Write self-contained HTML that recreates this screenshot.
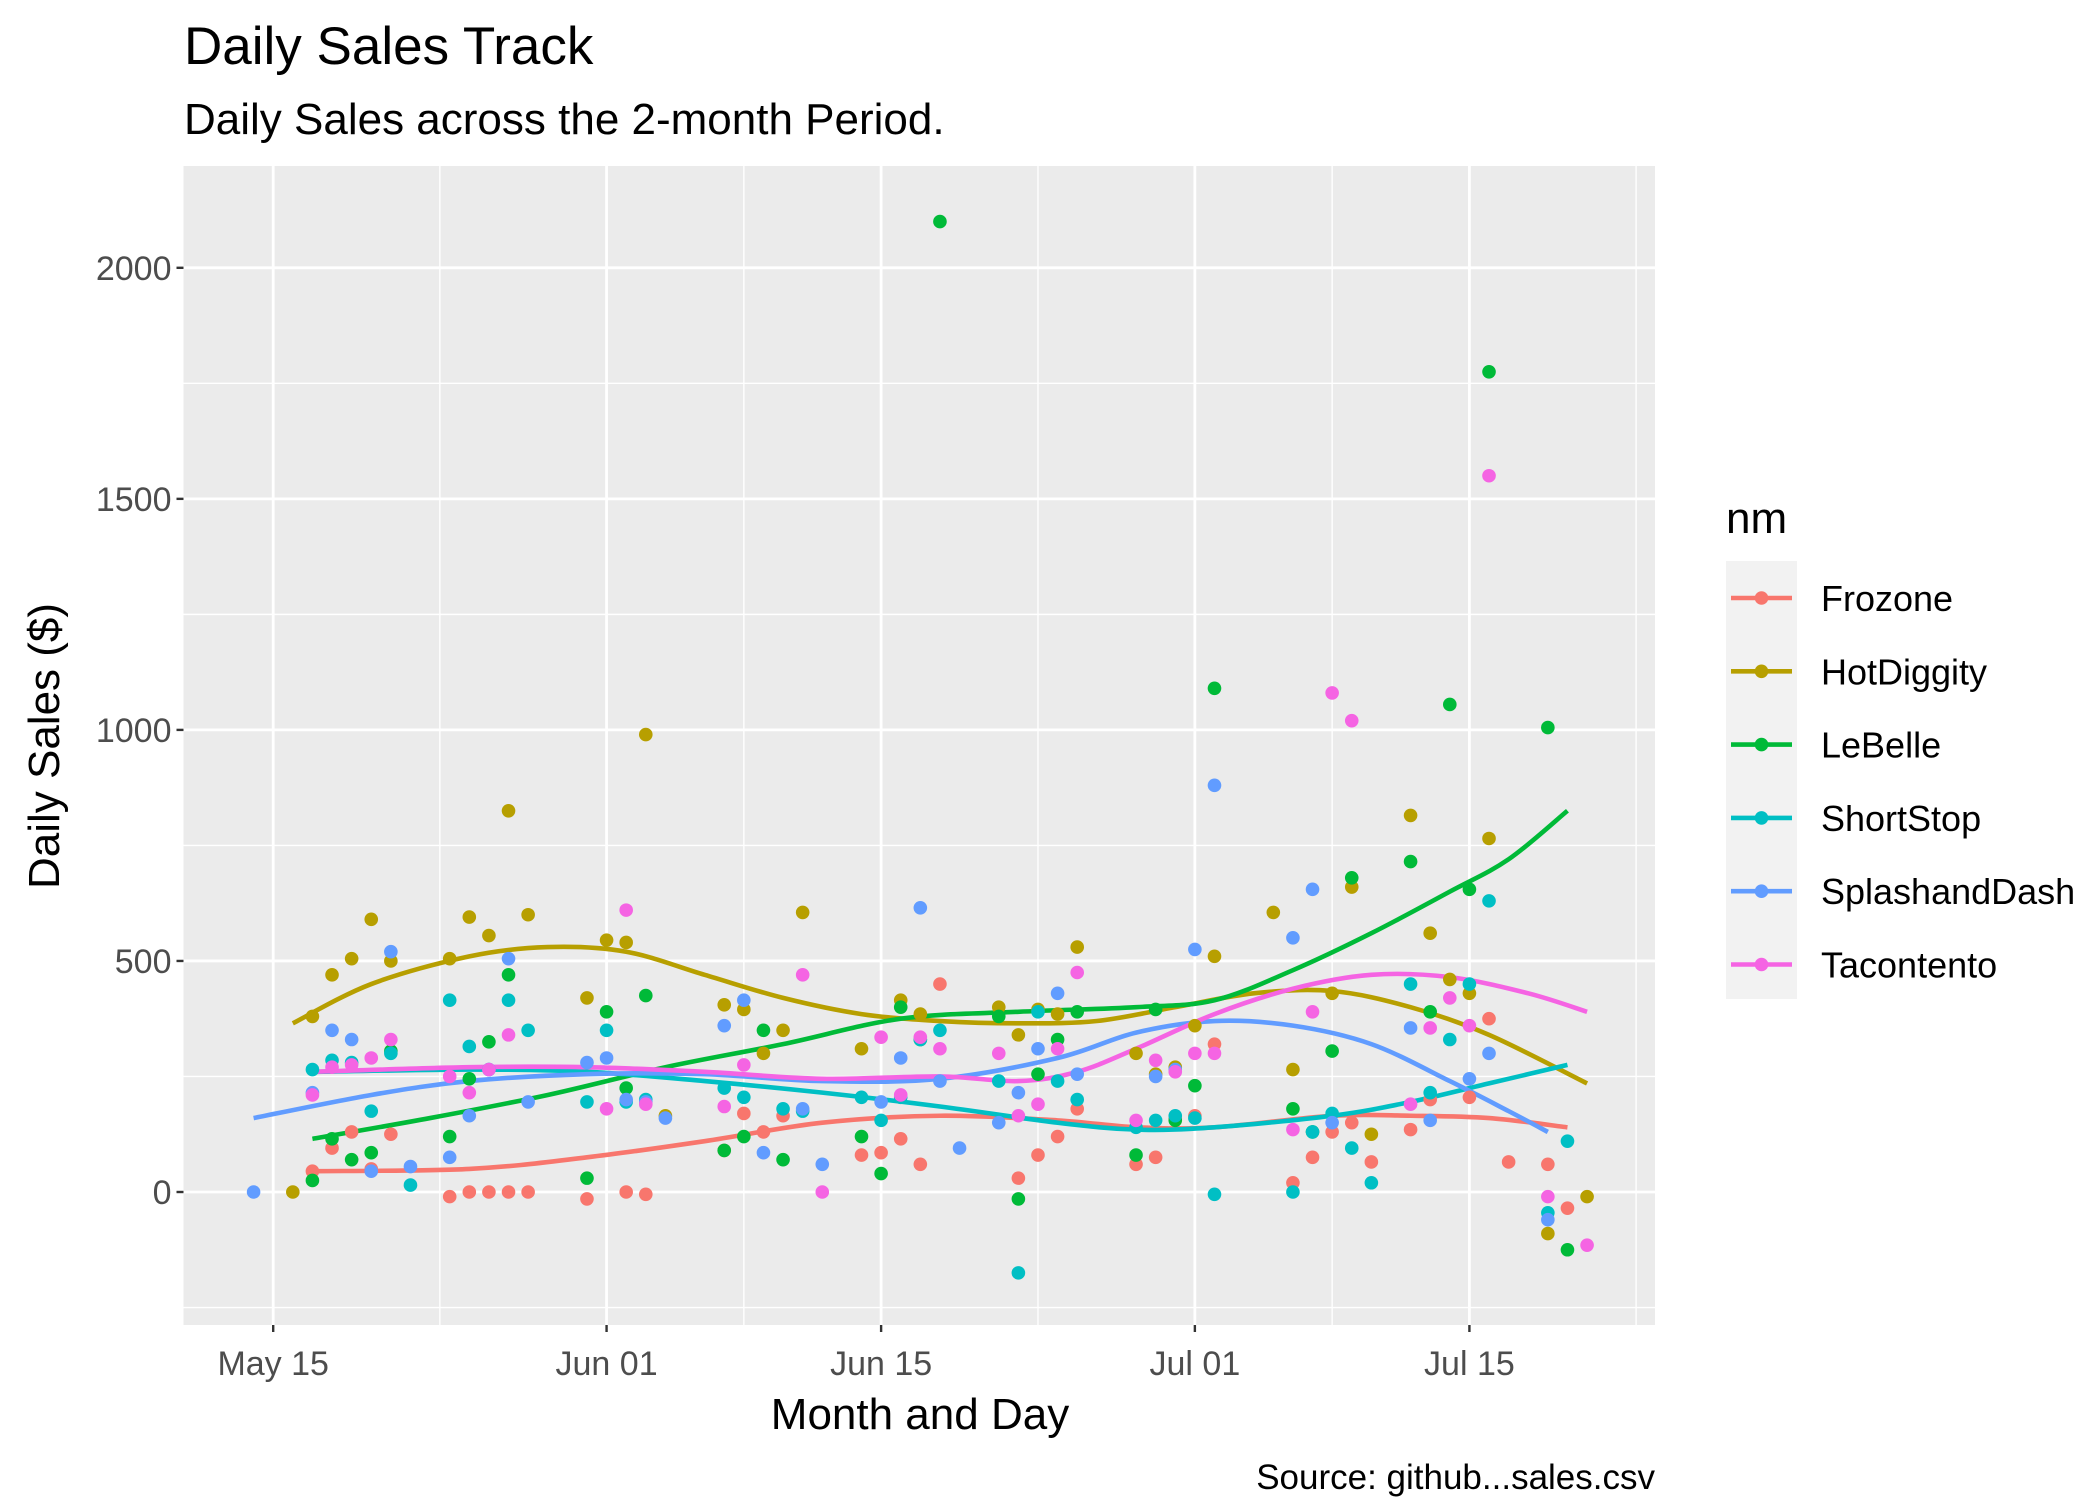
<!DOCTYPE html>
<html><head><meta charset="utf-8"><style>
html,body{margin:0;padding:0;background:#fff;}
svg{display:block;font-family:"Liberation Sans",Arial,sans-serif;}
</style></head><body>
<svg id="chart" width="2100" height="1499" viewBox="0 0 2100 1499" xmlns="http://www.w3.org/2000/svg">
<rect width="2100" height="1499" fill="#fff"/>
<text x="184" y="64" font-size="53" fill="#000">Daily Sales Track</text>
<text x="184" y="134" font-size="44" fill="#000">Daily Sales across the 2-month Period.</text>
<rect x="183.5" y="166" width="1471.5" height="1159" fill="#EBEBEB"/>
<g id="grid"></g>
<g id="lines"></g>
<g id="points"></g>
<g id="axes"></g>
<text transform="translate(59,746) rotate(-90)" text-anchor="middle" font-size="44" fill="#000">Daily Sales ($)</text>
<text x="920" y="1429" text-anchor="middle" font-size="44" fill="#000">Month and Day</text>
<text x="1655" y="1489" text-anchor="end" font-size="35" fill="#000">Source: github...sales.csv</text>
<text x="1726" y="533" font-size="44" fill="#000">nm</text>
<g id="legend"></g>
</svg>
<script>
const seriesNames=["Frozone","HotDiggity","LeBelle","ShortStop","SplashandDash","Tacontento"];
const colors=["#F8766D","#B79F00","#00BA38","#00BFC4","#619CFF","#F564E3"];
const yTicks=[0,500,1000,1500,2000];
const yMinor=[-250,250,750,1250,1750];
const xTickDays=[0,17,31,47,61];
const xTickLabels=["May 15","Jun 01","Jun 15","Jul 01","Jul 15"];
// points: [day offset from May 15, sales]
const frozonePts=[[2,45],[3,95],[4,130],[5,50],[6,125],[9,-10],[10,0],[11,0],[12,0],[13,0],[16,-15],[18,0],[19,-5],[23,90],[24,170],[25,130],[26,165],[30,80],[31,85],[32,115],[33,60],[34,450],[38,30],[39,80],[40,120],[41,180],[44,60],[45,75],[46,160],[47,165],[48,320],[52,20],[53,75],[54,130],[55,150],[56,65],[58,135],[59,200],[61,205],[62,375],[63,65],[65,60],[66,-35]];
const hotdiggityPts=[[1,0],[2,380],[3,470],[4,505],[5,590],[6,500],[9,505],[10,595],[11,555],[12,825],[13,600],[16,420],[17,545],[18,540],[19,990],[20,165],[23,405],[24,395],[25,300],[26,350],[27,605],[30,310],[32,415],[33,385],[37,400],[38,340],[39,395],[40,385],[41,530],[44,300],[45,255],[46,270],[47,360],[48,510],[51,605],[52,265],[54,430],[55,660],[56,125],[58,815],[59,560],[60,460],[61,430],[62,765],[65,-90],[67,-10]];
const lebellePts=[[2,25],[3,115],[4,70],[5,85],[6,305],[9,120],[10,245],[11,325],[12,470],[16,30],[17,390],[18,225],[19,425],[23,90],[24,120],[25,350],[26,70],[30,120],[31,40],[32,400],[33,330],[34,2100],[37,380],[38,-15],[39,255],[40,330],[41,390],[44,80],[45,395],[46,155],[47,230],[48,1090],[52,180],[53,130],[54,305],[55,680],[58,715],[59,390],[60,1055],[61,655],[62,1775],[65,1005],[66,-125]];
const shortstopPts=[[2,265],[3,285],[4,280],[5,175],[6,300],[7,15],[9,415],[10,315],[11,265],[12,415],[13,350],[16,195],[17,350],[18,195],[19,200],[23,225],[24,205],[26,180],[27,175],[30,205],[31,155],[32,205],[33,330],[34,350],[37,240],[38,-175],[39,390],[40,240],[41,200],[44,140],[45,155],[46,165],[47,160],[48,-5],[52,0],[53,130],[54,170],[55,95],[56,20],[58,450],[59,215],[60,330],[61,450],[62,630],[65,-45],[66,110]];
const splashPts=[[-1,0],[2,215],[3,350],[4,330],[5,45],[6,520],[7,55],[9,75],[10,165],[11,265],[12,505],[13,195],[16,280],[17,290],[18,200],[19,195],[20,160],[23,360],[24,415],[25,85],[27,180],[28,60],[31,195],[32,290],[33,615],[34,240],[35,95],[37,150],[38,215],[39,310],[40,430],[41,255],[45,250],[46,265],[47,525],[48,880],[52,550],[53,655],[54,150],[58,355],[59,155],[61,245],[62,300],[65,-60]];
const tacontentoPts=[[2,210],[3,270],[4,275],[5,290],[6,330],[9,250],[10,215],[11,265],[12,340],[17,180],[18,610],[19,190],[23,185],[24,275],[27,470],[28,0],[31,335],[32,210],[33,335],[34,310],[37,300],[38,165],[39,190],[40,310],[41,475],[44,155],[45,285],[46,260],[47,300],[48,300],[52,135],[53,390],[54,1080],[55,1020],[58,190],[59,355],[60,420],[61,360],[62,1550],[65,-10],[67,-115]];
// smoothed trend values: [day, fitted]
const frozoneFit=[[2,45],[10,50],[16,75],[22,110],[28,150],[34,165],[40,155],[44,140],[48,140],[54,165],[58,165],[62,160],[66,140]];
const hotdiggityFit=[[1,365],[5,450],[10,510],[14,530],[18,520],[22,470],[26,420],[30,385],[34,370],[38,365],[42,370],[46,400],[50,430],[54,435],[58,400],[62,340],[67,235]];
const lebelleFit=[[2,115],[8,160],[14,210],[20,270],[26,320],[32,375],[38,390],[44,400],[48,415],[52,480],[56,560],[60,650],[63,720],[66,825]];
const shortstopFit=[[2,260],[10,265],[16,260],[22,240],[28,215],[34,185],[40,150],[44,135],[48,140],[54,165],[58,195],[62,235],[66,275]];
const splashFit=[[-1,160],[5,210],[10,240],[16,255],[22,255],[28,240],[34,245],[40,290],[44,345],[48,370],[52,360],[56,320],[60,240],[63,175],[65,130]];
const tacontentoFit=[[2,260],[10,270],[16,270],[22,260],[28,245],[34,250],[38,240],[41,260],[44,310],[48,385],[52,440],[56,470],[60,465],[64,430],[67,390]];

const allPts=[frozonePts,hotdiggityPts,lebellePts,shortstopPts,splashPts,tacontentoPts];
const allFit=[frozoneFit,hotdiggityFit,lebelleFit,shortstopFit,splashFit,tacontentoFit];
const NS="http://www.w3.org/2000/svg";
const PL=183.5,PR=1655,PT=166,PB=1325;
function xS(d){return 273.2+d*19.61;}
function yS(v){return 1192-v*0.4621;}
function mk(tag,parent,attrs){const e=document.createElementNS(NS,tag);for(const k in attrs)e.setAttribute(k,attrs[k]);parent.appendChild(e);return e;}
const grid=document.getElementById('grid');
yMinor.forEach(v=>{const l=mk('line',grid,{x1:PL,x2:PR,y1:yS(v),y2:yS(v),stroke:'#fff','stroke-width':1.4});

});
const minorDays=[xTickDays[0]-8.5];
for(let i=0;i<xTickDays.length-1;i++){minorDays.push((xTickDays[i]+xTickDays[i+1])/2);}
minorDays.push(xTickDays[4]+8.5);
minorDays.forEach(d=>{const l=mk('line',grid,{x1:xS(d),x2:xS(d),y1:PT,y2:PB,stroke:'#fff','stroke-width':1.4});

});
const axes=document.getElementById('axes');
yTicks.forEach(v=>{const l=mk('line',grid,{x1:PL,x2:PR,y1:yS(v),y2:yS(v),stroke:'#fff','stroke-width':2.8});


const t=mk('line',axes,{x1:PL-7,x2:PL,y1:yS(v),y2:yS(v),stroke:'#333','stroke-width':2.4});


const tx=mk('text',axes,{x:PL-12,y:yS(v)+12,'text-anchor':'end','font-size':34,fill:'#4D4D4D'});tx.textContent=v;

});
xTickDays.forEach((d,i)=>{const l=mk('line',grid,{x1:xS(d),x2:xS(d),y1:PT,y2:PB,stroke:'#fff','stroke-width':2.8});


const t=mk('line',axes,{x1:xS(d),x2:xS(d),y1:PB,y2:PB+7,stroke:'#333','stroke-width':2.4});


const tx=mk('text',axes,{x:xS(d),y:PB+50,'text-anchor':'middle','font-size':34,fill:'#4D4D4D'});tx.textContent=xTickLabels[i];

});
const pg=document.getElementById('points');
allPts.forEach((pts,s)=>{pts.forEach(p=>{const c=mk('circle',pg,{cx:xS(p[0]),cy:yS(p[1]),r:6.8,fill:colors[s]});

});});
function smoothPath(fit){const P=fit.map(p=>[xS(p[0]),yS(p[1])]);let d='M'+P[0][0]+','+P[0][1];
for(let i=0;i<P.length-1;i++){const p0=P[Math.max(0,i-1)],p1=P[i],p2=P[i+1],p3=P[Math.min(P.length-1,i+2)];
const c1=[p1[0]+(p2[0]-p0[0])/6,p1[1]+(p2[1]-p0[1])/6],c2=[p2[0]-(p3[0]-p1[0])/6,p2[1]-(p3[1]-p1[1])/6];
d+=' C'+c1[0]+','+c1[1]+' '+c2[0]+','+c2[1]+' '+p2[0]+','+p2[1];}return d;}
const lg=document.getElementById('lines');
allFit.forEach((fit,s)=>{const p=mk('path',lg,{d:smoothPath(fit),fill:'none',stroke:colors[s],'stroke-width':4.6});

});
const leg=document.getElementById('legend');
const bg=mk('rect',leg,{x:1726,y:561,width:71,height:438,fill:'#F2F2F2'});


seriesNames.forEach((n,i)=>{const y=598+i*73.3;
const g=mk('g',leg,{});


mk('line',g,{x1:1731,x2:1792,y1:y,y2:y,stroke:colors[i],'stroke-width':4.6});
mk('circle',g,{cx:1761.5,cy:y,r:6.8,fill:colors[i]});
const t=mk('text',g,{x:1821,y:y+13,'font-size':36,fill:'#000'});t.textContent=n;});
</script>
</body></html>
